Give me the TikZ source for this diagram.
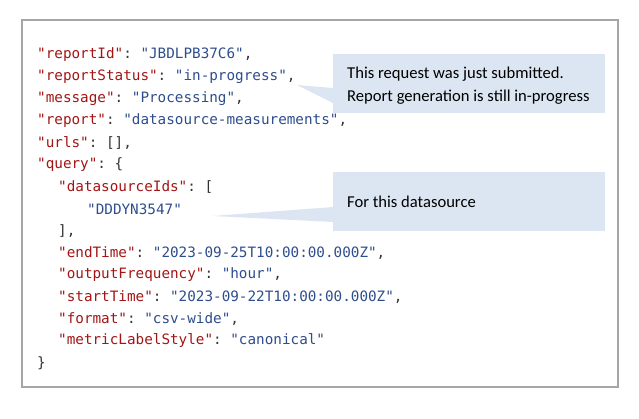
\documentclass[tikz,border=0pt]{standalone}
\usepackage{fontspec}
\setmainfont{Carlito}
\setmonofont{DejaVu Sans Mono}
\begin{document}
\begin{tikzpicture}[x=1pt,y=-1pt,
  code/.style={anchor=west,inner sep=0pt,font=\ttfamily\fontsize{14.3}{14}\selectfont,text=punct},
  note/.style={fill=callfill,draw=none},
  ctext/.style={anchor=west,inner sep=0pt,align=left,font=\fontsize{16.6}{23}\selectfont,text=black}]
\definecolor{keyc}{HTML}{A31515}
\definecolor{valc}{HTML}{2E4D8C}
\definecolor{punct}{HTML}{333333}
\definecolor{callfill}{HTML}{DCE6F2}
\useasboundingbox (0,0) rectangle (639,418);
\draw[draw=black!35,line width=1.2pt] (22,20) rectangle (618,387);
\newcommand{\K}[1]{\textcolor{keyc}{"#1"}}
\newcommand{\V}[1]{\textcolor{valc}{"#1"}}
\node[code] (l1) at (37,55) {\K{reportId}: \V{JBDLPB37C6},};
\node[code] (l2) at (37,77) {\K{reportStatus}: \V{in-progress},};
\node[code] (l3) at (37,99) {\K{message}: \V{Processing},};
\node[code] (l4) at (37,121) {\K{report}: \V{datasource-measurements},};
\node[code] (l5) at (37,143) {\K{urls}: [],};
\node[code] (l6) at (37,165) {\K{query}: \{};
\node[code] (l7) at (58,187) {\K{datasourceIds}: [};
\node[code] (l8) at (87,209) {\V{DDDYN3547}};
\node[code] (l9) at (58,231) {],};
\node[code] (l10) at (58,253) {\K{endTime}: \V{2023-09-25T10:00:00.000Z},};
\node[code] (l11) at (58,275) {\K{outputFrequency}: \V{hour},};
\node[code] (l12) at (58,297) {\K{startTime}: \V{2023-09-22T10:00:00.000Z},};
\node[code] (l13) at (58,319) {\K{format}: \V{csv-wide},};
\node[code] (l14) at (58,341) {\K{metricLabelStyle}: \V{canonical}};
\node[code] (l15) at (37,363) {\}};
% callout 1
\coordinate (t1) at (297,85);
\fill[callfill] (t1) -- (333,88) -- (333,103) -- cycle;
\fill[callfill] (333,54) rectangle (605,113);
\node[ctext] (c1) at (347,86) {This request was just submitted.\\Report generation is still in-progress};
% callout 2
\coordinate (t2) at (212,216);
\fill[callfill] (t2) -- (333,207) -- (333,222) -- cycle;
\fill[callfill] (333,172) rectangle (605,231);
\node[ctext] (c2) at (347,202) {For this datasource};
\end{tikzpicture}
\end{document}
